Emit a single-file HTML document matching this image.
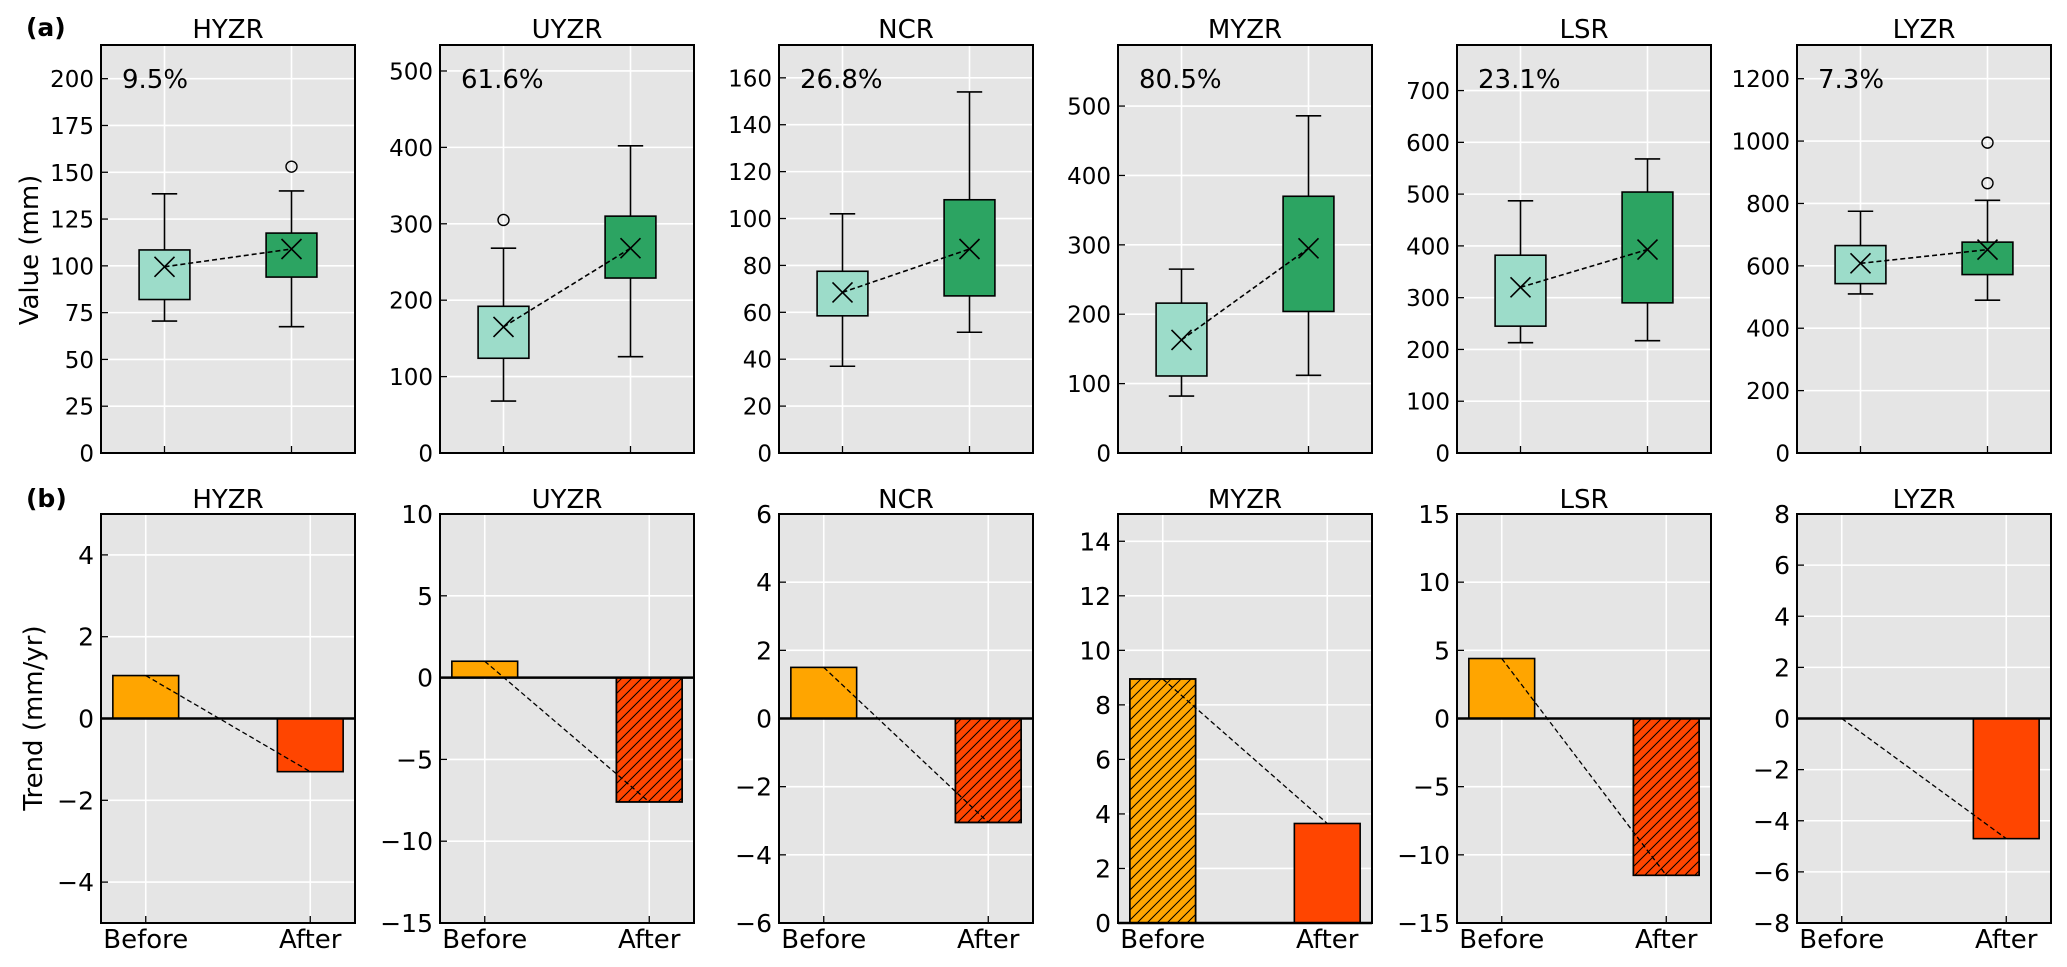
<!DOCTYPE html>
<html><head><meta charset="utf-8">
<style>
html,body{margin:0;padding:0;background:#fff;}
svg{display:block;font-family:"DejaVu Sans","Liberation Sans",sans-serif;}
</style></head>
<body>
<svg id="fig" width="2067" height="967" viewBox="0 0 2067 967" xmlns="http://www.w3.org/2000/svg">
<defs>
<pattern id="hatch" patternUnits="userSpaceOnUse" width="10" height="10">
<path d="M-2,12 L12,-2 M-7,7 L7,-7 M3,17 L17,3" stroke="#000" stroke-width="1"/>
</pattern>
</defs>
<text x="26" y="36" font-size="25" font-weight="bold">(a)</text>
<text x="26" y="507" font-size="25" font-weight="bold">(b)</text>
<text transform="translate(38,250) rotate(-90)" text-anchor="middle" font-size="26">Value (mm)</text>
<text transform="translate(42,718) rotate(-90)" text-anchor="middle" font-size="26">Trend (mm/yr)</text>
</svg>
<script>
const regions = ["HYZR","UYZR","NCR","MYZR","LSR","LYZR"];
const percents = ["9.5%","61.6%","26.8%","80.5%","23.1%","7.3%"];
// box stats: [whiskerLow, q1, q3, whiskerHigh, mean]
const boxBefore = [[70.5,82,108.5,138.5,99.5],[68,124,192,268,165],[37,58.5,77.5,102,68.5],[82,111,216,265,163],[213,245,382,487,320],[510,543,665,775,608]];
const boxAfter = [[67.5,94,117.5,140,109],[126,229,310,402,268],[51.5,67,108,154,87],[112,204,370,486,295],[217,290,504,568,393],[490,572,676,810,652]];
const outBefore = [[],[305],[],[],[],[]];
const outAfter = [[153],[],[],[],[],[865,995]];
const topYMax = [218,534,174,588,788,1308];
const topYTicks = [[0,25,50,75,100,125,150,175,200],[0,100,200,300,400,500],[0,20,40,60,80,100,120,140,160],[0,100,200,300,400,500],[0,100,200,300,400,500,600,700],[0,200,400,600,800,1000,1200]];
const trendBefore = [1.05,1.0,1.5,8.95,4.4,0.0];
const trendAfter = [-1.3,-7.6,-3.05,3.65,-11.5,-4.7];
const hatchBefore = [false,false,false,true,false,false];
const hatchAfter = [false,true,true,false,true,false];
const botYMin = [-5,-15,-6,0,-15,-8];
const botYMax = [5,10,6,15,15,8];
const botYTicks = [[-4,-2,0,2,4],[-15,-10,-5,0,5,10],[-6,-4,-2,0,2,4,6],[0,2,4,6,8,10,12,14],[-15,-10,-5,0,5,10,15],[-8,-6,-4,-2,0,2,4,6,8]];
const xLabels = ["Before","After"];

const NS="http://www.w3.org/2000/svg";
const svg=document.getElementById('fig');
function el(tag,attrs,parent){const e=document.createElementNS(NS,tag);for(const k in attrs)e.setAttribute(k,attrs[k]);(parent||svg).appendChild(e);return e;}
const lefts=[101,440,779,1118,1457,1797];
const W=254;
const TOP=[45,453], BOT=[514,923];
function fmt(v){return v<0?'\u2212'+Math.abs(v):String(v);}

regions.forEach((name,i)=>{
  const L=lefts[i], R=L+W;
  const g=el('g',{});
  
  
  const xs=p=>L+(p-0.5)/2*W;
  const ys=v=>TOP[1]-v/topYMax[i]*(TOP[1]-TOP[0]);
  const bg=el('rect',{x:L,y:TOP[0],width:W,height:TOP[1]-TOP[0],fill:'#e5e5e5'},g);
  
  
  topYTicks[i].forEach(t=>{
    const y=ys(t);
    el('line',{x1:L,x2:R,y1:y,y2:y,stroke:'#fff','stroke-width':1.6},g);
    el('line',{x1:L,x2:L+7,y1:y,y2:y,stroke:'#000','stroke-width':1.3},g);
    const tl=el('text',{x:L-7,y:y+8.5,'text-anchor':'end','font-size':23},g);
    tl.textContent=fmt(t);
    
    
  });
  [1,2].forEach(p=>{const x=xs(p);el('line',{x1:x,x2:x,y1:TOP[0],y2:TOP[1],stroke:'#fff','stroke-width':1.6},g);el('line',{x1:x,x2:x,y1:TOP[1],y2:TOP[1]-7,stroke:'#000','stroke-width':1.3},g);});
  const bw=0.4*W/2;
  [[boxBefore[i],outBefore[i],1,'#9cdcc9','before'],[boxAfter[i],outAfter[i],2,'#2ca462','after']].forEach(([b,outs,p,col,lab])=>{
    const x=xs(p);
    el('line',{x1:x,x2:x,y1:ys(b[0]),y2:ys(b[1]),stroke:'#000','stroke-width':1.6},g);
    el('line',{x1:x,x2:x,y1:ys(b[2]),y2:ys(b[3]),stroke:'#000','stroke-width':1.6},g);
    el('line',{x1:x-bw/4,x2:x+bw/4,y1:ys(b[0]),y2:ys(b[0]),stroke:'#000','stroke-width':1.6},g);
    el('line',{x1:x-bw/4,x2:x+bw/4,y1:ys(b[3]),y2:ys(b[3]),stroke:'#000','stroke-width':1.6},g);
    const r=el('rect',{x:x-bw/2,y:ys(b[2]),width:bw,height:ys(b[1])-ys(b[2]),fill:col,stroke:'#000','stroke-width':1.6},g);
    
    
    outs.forEach(o=>{const c=el('circle',{cx:x,cy:ys(o),r:5.5,fill:'none',stroke:'#000','stroke-width':1.4},g);
      
      });
  });
  el('line',{x1:xs(1),y1:ys(boxBefore[i][4]),x2:xs(2),y2:ys(boxAfter[i][4]),stroke:'#000','stroke-width':1.6,'stroke-dasharray':'5,3'},g);
  [[1,boxBefore[i][4]],[2,boxAfter[i][4]]].forEach(([p,m])=>{
    const x=xs(p),y=ys(m),s=10;
    const mk=el('path',{d:`M${x-s},${y-s}L${x+s},${y+s}M${x-s},${y+s}L${x+s},${y-s}`,stroke:'#000','stroke-width':1.6,fill:'none'},g);
    
    
  });
  el('rect',{x:L,y:TOP[0],width:W,height:TOP[1]-TOP[0],fill:'none',stroke:'#000','stroke-width':2},g);
  const tt=el('text',{x:L+W/2,y:38,'text-anchor':'middle','font-size':26},g);
  tt.textContent=name;
  
  
  const pt=el('text',{x:L+21,y:88,'font-size':26},g);
  pt.textContent=percents[i];
  
  

  const h=el('g',{});
  
  
  const x0=-0.272,x1=1.272;
  const bx=p=>L+(p-x0)/(x1-x0)*W;
  const by=v=>BOT[1]-(v-botYMin[i])/(botYMax[i]-botYMin[i])*(BOT[1]-BOT[0]);
  const bg2=el('rect',{x:L,y:BOT[0],width:W,height:BOT[1]-BOT[0],fill:'#e5e5e5'},h);
  
  
  botYTicks[i].forEach(t=>{
    const y=by(t);
    el('line',{x1:L,x2:R,y1:y,y2:y,stroke:'#fff','stroke-width':1.6},h);
    el('line',{x1:L,x2:L+7,y1:y,y2:y,stroke:'#000','stroke-width':1.3},h);
    const tl=el('text',{x:L-7,y:y+9,'text-anchor':'end','font-size':25},h);
    tl.textContent=fmt(t);
    
    
  });
  [0,1].forEach(p=>{const x=bx(p);el('line',{x1:x,x2:x,y1:BOT[0],y2:BOT[1],stroke:'#fff','stroke-width':1.6},h);el('line',{x1:x,x2:x,y1:BOT[1],y2:BOT[1]-7,stroke:'#000','stroke-width':1.3},h);
    const xl=el('text',{x:x,y:948,'text-anchor':'middle','font-size':26},h);
    xl.textContent=xLabels[p];
    
    });
  const barW=0.4/(x1-x0)*W;
  [[trendBefore[i],hatchBefore[i],0,'#ffa500','before'],[trendAfter[i],hatchAfter[i],1,'#ff4500','after']].forEach(([v,ht,p,col,lab])=>{
    const x=bx(p),yt=by(Math.max(v,0)),yb=by(Math.min(v,0));
    const r=el('rect',{x:x-barW/2,y:yt,width:barW,height:Math.max(yb-yt,0),fill:col,stroke:'#000','stroke-width':1.6},h);
    
    
    if(ht){el('rect',{x:x-barW/2,y:yt,width:barW,height:Math.max(yb-yt,0),fill:'url(#hatch)',stroke:'#000','stroke-width':1.6},h);}
  });
  el('line',{x1:L,x2:R,y1:by(0),y2:by(0),stroke:'#000','stroke-width':2.5},h);
  el('line',{x1:bx(0),y1:by(trendBefore[i]),x2:bx(1),y2:by(trendAfter[i]),stroke:'#000','stroke-width':1.3,'stroke-dasharray':'5,3'},h);
  el('rect',{x:L,y:BOT[0],width:W,height:BOT[1]-BOT[0],fill:'none',stroke:'#000','stroke-width':2},h);
  const t2=el('text',{x:L+W/2,y:508,'text-anchor':'middle','font-size':26},h);
  t2.textContent=name;
  
  
});
</script>
</body></html>
